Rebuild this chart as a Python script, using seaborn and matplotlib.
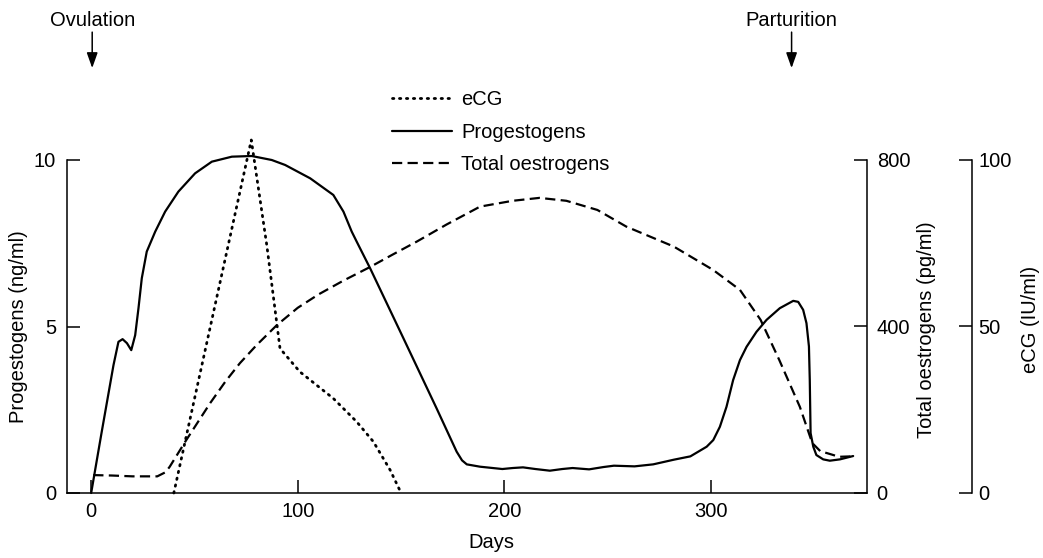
import matplotlib
matplotlib.use("Agg")
import matplotlib.pyplot as plt
import matplotlib.transforms as mtransforms
import seaborn as sns

# ---------------------------
# DATA
# ---------------------------
prog_days = [0, 5, 10.8, 13.2, 15.2, 17.3, 19.4, 21.3, 22.9, 24.5, 26.9, 31, 35.8, 42.2,
             50.3, 58.4, 68.1, 77.7, 87.4, 93.9, 106, 117.2, 122.1, 126.1, 128.5, 135,
             151.1, 167.2, 176.9, 179.5, 181.8, 188.2, 199, 204, 209, 215, 222, 228, 233,
             241, 248, 253, 263, 272, 282, 290, 297.9, 301.1, 304.3, 307.5, 310.7, 314,
             317.2, 322, 326.9, 333.3, 339.8, 342.2, 344.6, 346.2, 347.4, 347.8, 348.2,
             349.5, 351, 354.3, 357.5, 362.4, 368.8]
prog_vals = [0, 1.8, 3.84, 4.54, 4.62, 4.5, 4.29, 4.74, 5.55, 6.45, 7.25, 7.85, 8.45, 9.05,
             9.6, 9.95, 10.1, 10.12, 10.0, 9.85, 9.45, 8.95, 8.45, 7.85, 7.55, 6.75,
             4.65, 2.54, 1.24, 0.98, 0.86, 0.79, 0.72, 0.75, 0.77, 0.72, 0.67, 0.72, 0.75,
             0.71, 0.78, 0.82, 0.8, 0.86, 1.0, 1.1, 1.39, 1.59, 1.99, 2.59, 3.39, 3.99,
             4.39, 4.84, 5.2, 5.55, 5.77, 5.74, 5.5, 5.1, 4.4, 3.4, 1.8,
             1.39, 1.14, 1.01, 0.97, 1.01, 1.11]

oest_days = [1, 10, 20, 32, 36, 38, 42, 46, 57.6, 65, 72, 80, 89.8, 100, 110, 122, 135,
             146, 157.6, 172, 188.2, 204, 217, 230, 245, 259, 282, 301, 314, 324, 333,
             343, 349, 353, 356, 362, 368]
oest_vals = [43, 42, 40, 40, 50, 63, 95, 127, 216, 268, 312, 355, 403, 445, 477, 510, 543,
             573, 604, 645, 688, 702, 709, 702, 680, 640, 592, 536, 488, 416, 320,
             207, 120, 100, 96, 87, 88]

ecg_days = [40, 77.5, 85, 91.4, 101, 117.2, 128.5, 136.6, 144.7, 150]
ecg_vals = [0, 106, 74.4, 43.4, 36.4, 28.4, 21.4, 15.4, 6.9, 0]

event_names = ["Ovulation", "Parturition"]
event_days = [0.5, 339]

# ---------------------------
# STYLE
# ---------------------------
sns.set_style("ticks")
plt.rcParams["font.family"] = ["Liberation Sans", "DejaVu Sans"]
for key in ["text.color", "axes.labelcolor", "xtick.color", "ytick.color", "axes.edgecolor"]:
    plt.rcParams[key] = "black"
FS = 14.5
LW = 1.1

fig = plt.figure(figsize=(10.43, 5.58), dpi=100)
ax = fig.add_axes([67 / 1043, 65 / 558, 800 / 1043, 333 / 558])
ax2 = ax.twinx()
ax3 = ax.twinx()

# ---------------------------
# LINES
# ---------------------------
sns.lineplot(x=ecg_days, y=ecg_vals, ax=ax3, color="black", lw=2.0,
             linestyle=(0, (0.5, 2.0)), dash_capstyle="round",
             estimator=None, sort=False, label="eCG", legend=False, clip_on=False)
sns.lineplot(x=prog_days, y=prog_vals, ax=ax, color="black", lw=1.6,
             estimator=None, sort=False, label="Progestogens", legend=False, clip_on=False)
sns.lineplot(x=oest_days, y=oest_vals, ax=ax2, color="black", lw=1.6,
             linestyle=(0, (4.6, 2.4)),
             estimator=None, sort=False, label="Total oestrogens", legend=False, clip_on=False)

# ---------------------------
# AXES
# ---------------------------
ax.set_xlim(-11.7, 375.5)
ax.set_ylim(0, 10)
ax2.set_ylim(0, 800)
ax3.set_ylim(0, 100)

ax.set_xticks([0, 100, 200, 300])
ax.set_yticks([0, 5, 10])
ax2.set_yticks([0, 400, 800])
ax3.set_yticks([0, 50, 100])

for a in (ax, ax2, ax3):
    for s in a.spines.values():
        s.set_visible(False)
        s.set_linewidth(LW)
        s.set_color("black")

ax.spines["left"].set_visible(True)
ax.spines["bottom"].set_visible(True)
ax2.spines["right"].set_visible(True)
ax3.spines["right"].set_visible(True)
ax3.spines["right"].set_position(("axes", 1.131))

ax.tick_params(axis="x", direction="in", length=9.5, width=LW, labelsize=FS, pad=6.5)
ax.tick_params(axis="y", direction="in", length=9.5, width=LW, labelsize=FS, pad=8)
ax2.tick_params(axis="y", direction="in", length=9.5, width=LW, labelsize=FS, pad=7)
ax3.tick_params(axis="y", direction="in", length=9.5, width=LW, labelsize=FS, pad=4.5)

ax.set_xlabel("Days", fontsize=FS, va="center")
ax.xaxis.set_label_coords(0.53, -0.150)
ax.set_ylabel("Progestogens (ng/ml)", fontsize=FS, va="center")
ax.yaxis.set_label_coords(-0.061, 0.5)
ax2.set_ylabel("Total oestrogens (pg/ml)", fontsize=FS, va="center")
ax2.yaxis.set_label_coords(1.075, 0.49)
ax3.set_ylabel("eCG (IU/ml)", fontsize=FS, va="center")
ax3.yaxis.set_label_coords(1.204, 0.5225)

# ---------------------------
# EVENTS (ovulation / parturition)
# ---------------------------
trans = mtransforms.blended_transform_factory(ax.transData, ax.transAxes)
for name, d in zip(event_names, event_days):
    ax.text(d, 1.42, name, transform=trans, ha="center", va="center", fontsize=FS)
    ax.annotate("", xy=(d, 1.276), xytext=(d, 1.384), xycoords=trans, textcoords=trans,
                arrowprops=dict(arrowstyle="-|>,head_length=0.62,head_width=0.22",
                                mutation_scale=15, color="black", lw=LW,
                                shrinkA=0, shrinkB=0))

# ---------------------------
# LEGEND
# ---------------------------
handles = ax3.get_lines()[:1] + ax.get_lines()[:1] + ax2.get_lines()[:1]
labels = ["eCG", "Progestogens", "Total oestrogens"]
ax3.legend(handles, labels, loc="upper left", bbox_to_anchor=(0.406, 1.21),
           frameon=False, fontsize=FS, handlelength=3.0, handletextpad=0.45,
           labelspacing=0.67, borderpad=0, borderaxespad=0)

fig.savefig("out.png", dpi=100)
